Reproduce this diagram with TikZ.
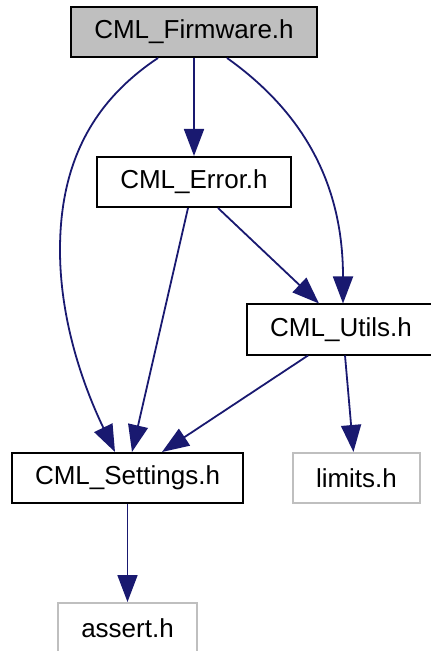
\documentclass[tikz,border=0pt]{standalone}
\usepackage{fontspec}
\setmainfont{Liberation Sans}
\usepackage{tikz}
\usetikzlibrary{arrows.meta, positioning, calc}
\definecolor{edgeblue}{HTML}{191970}
\definecolor{boxgray}{HTML}{BFBFBF}

\begin{document}
\begin{tikzpicture}[
  x=0.5pt, y=-0.5pt,
  file/.style={rectangle, draw=black, fill=white, line width=1pt,
               font=\fontsize{13}{15}\selectfont, minimum height=25pt,
               inner xsep=11.5pt, inner ysep=0pt},
  sysfile/.style={file, draw=boxgray},
  arr/.style={-{Triangle[length=13.5pt,width=10pt]}, draw=edgeblue,
              line width=0.9pt},
  node distance=49pt and 24pt
]
  \useasboundingbox (0,0) rectangle (430,651);
  \node[file, fill=boxgray] at (194,32) (firmware) {CML\_Firmware.h};
  \node[file, below=of firmware] (error) {CML\_Error.h};
  \node[file] at (341,329.5) (utils) {CML\_Utils.h};
  \node[file] at (127.5,478) (settings) {CML\_Settings.h};
  \node[sysfile, right=of settings] (limits) {limits.h};
  \node[sysfile, below=of settings] (assert) {assert.h};
  \draw[arr] (firmware) -- (error);
  \draw[arr] ($(firmware.south)+(-36,0)$) .. controls (95,100) and (60,160) .. (60,250)
             .. controls (60,330) and (90,400) .. ($(settings.north)+(-12.5,0)$);
  \draw[arr] ($(firmware.south)+(33,0)$) .. controls (300,110) and (343,180) .. ($(utils.north)+(2,0)$);
  \draw[arr] ($(error.south)+(-6,0)$) -- ($(settings.north)+(4.5,0)$);
  \draw[arr] ($(error.south)+(24,0)$) -- ($(utils.north)+(-22,0)$);
  \draw[arr] ($(utils.south)+(-33,0)$) -- ($(settings.north)+(34.5,0)$);
  \draw[arr] ($(utils.south)+(4,0)$) -- ($(limits.north)+(-3,0)$);
  \draw[arr] (settings) -- (assert);
\end{tikzpicture}
\end{document}
